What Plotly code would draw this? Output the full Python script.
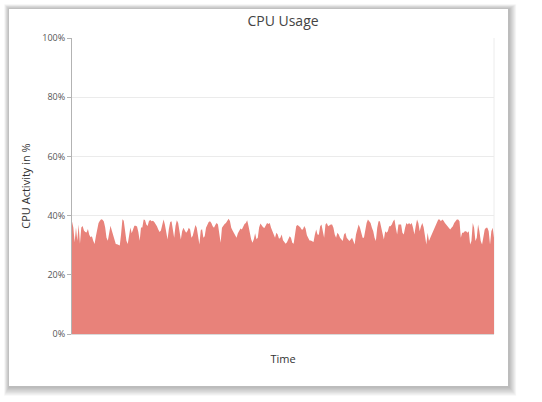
import plotly.graph_objects as go

# CPU activity (%), evenly spaced in time
seg1 = [38.0, 36, 31, 36, 31.5, 37, 30.5, 36, 36.5, 35, 34.5, 34.3, 35.5, 33.5, 32.7, 33,
        31.5, 30.4, 33, 36, 37.5, 38.3, 38.8, 38.6, 38, 36, 32.5, 31.5, 35, 36.6, 35, 33.5,
        32, 30.4, 30.3, 30.1, 29.9, 33.8, 38.8, 38.3, 33.8, 31.5, 30.4, 33, 36, 34, 35.8,
        36.6, 36.6, 36.3, 34.5, 31.5, 36]
seg2 = [36, 38.7, 38.5, 37, 36.5, 38.2, 38.5, 38.1, 38.3, 37.8, 37.2, 36.4, 35.3, 34.5, 35,
        36.8, 38.7, 37.0, 33.6, 31.9, 35.5, 37.8, 38.1, 34.7, 32.5, 36.5, 38.4, 37.5, 34.2,
        31.9, 34.7, 35.9, 35, 34.2, 34.8, 35.9, 35.3, 32.5, 33.2, 35.5, 36.8, 35.9, 32.5,
        30.2, 35, 35.5, 32.5, 33, 35.9, 37.0, 37.8, 38.1, 37.5]
seg3 = [36.4, 35.9, 36.8, 37.5, 37.0, 33.0, 30.8, 35.9, 36.6, 37.2, 37.5, 38.3, 38.9, 38.2,
        35.9, 35, 34.3, 33.6, 32.5, 34, 35, 35.6, 35.3, 36.5, 37.2, 37.5, 38.4, 36.5, 33.5,
        32, 30.8, 32, 34, 32, 32.5, 36, 37.3, 36.5, 36.1, 35.8, 36.8, 37.5, 37.2, 37.5, 35.9,
        34.8, 33.8, 32.5, 34.2, 33.6, 32.2, 32.5, 33.6]
seg4 = [31.7, 31.1, 30.5, 31, 32.2, 33, 32.5, 30.8, 30.5, 33, 36.5, 36.8, 36.4, 36.1, 35.3,
        35.3, 36.5, 35.6, 33.4, 32.2, 31.6, 31.6, 31.4, 31.1, 33.5, 35.3, 33.6, 33.5, 36.4,
        37.0, 34.7, 32.5, 37.0, 37.5, 36.4, 36.8, 37.0, 37.0, 35.9, 33.6, 32.5, 34.2, 33.6,
        32.5, 31.9, 31.4, 33.6, 34.2, 32.5, 31.8, 31.4, 31.9, 32.5]
seg5 = [31.4, 30.2, 33.6, 35.9, 37.0, 35.9, 33.6, 32.5, 32.5, 35.9, 37.5, 38.7, 38.1, 37.5,
        35.9, 34.7, 32.5, 31.4, 35.9, 38.1, 38.1, 35.9, 33.6, 31.9, 34.7, 34.2, 34.7, 36.4,
        36.4, 37.0, 38.1, 38.7, 35.9, 33.6, 37.0, 37.0, 37.0, 34.2, 33.6, 35.9, 37.5, 37.0,
        37.5, 37.0, 37.5, 35.9, 33.6, 36.4, 38.7, 37.5, 34.7, 36.4, 37.5]
seg6 = [36.0, 32.5, 30.2, 34.2, 31.4, 32.5, 33.6, 34.7, 35.9, 37.0, 38.1, 38.7, 38.7, 38.1,
        38.7, 38.3, 37.5, 37.0, 36.4, 35.9, 35.3, 35.9, 36.4, 37.5, 38.1, 38.7, 38.7, 38.1,
        32.5, 34.2, 34.2, 34.7, 34.7, 34.2, 34.7, 30.2, 31.4, 37.5, 35.9, 31.4, 32.5, 37.0,
        34.7, 31.4, 30.2, 33.6, 35.3, 35.9, 35.9, 34.7, 30.2, 34.7, 35.9, 32.5]
cpu_usage = seg1 + seg2 + seg3 + seg4 + seg5 + seg6
time_index = list(range(len(cpu_usage)))

y_tick_values = [0, 20, 40, 60, 80, 100]
y_tick_labels = ["0%", "20%", "40%", "60%", "80%", "100%"]

W, H = 542, 402
L, R, T, B = 72, 48, 38, 68
pw, ph = W - L - R, H - T - B

def px_x(px):
    return (px - L) / pw

def px_y(py):
    return (H - B - py) / ph

fig = go.Figure()
fig.add_trace(go.Scatter(
    x=time_index, y=cpu_usage, mode="lines", fill="tozeroy",
    line=dict(width=0, color="#E8827A"), fillcolor="#E8827A",
    hoverinfo="skip", showlegend=False))

shapes = []
# soft card shadow (stronger to the right and bottom)
for i in range(1, 9):
    shapes.append(dict(type="rect", xref="paper", yref="paper", layer="below",
                       x0=px_x(9 - i * 0.6), x1=px_x(509 + i * 0.9),
                       y0=px_y(387 + i * 1.1), y1=px_y(9 - i * 0.6),
                       line=dict(width=0), fillcolor="rgba(0,0,0,0.035)"))
shapes.append(dict(type="rect", xref="paper", yref="paper", layer="below",
                   x0=px_x(9), x1=px_x(508), y0=px_y(386), y1=px_y(9),
                   line=dict(width=0), fillcolor="#ffffff"))
# right border of plot area
shapes.append(dict(type="line", xref="paper", yref="paper", layer="below",
                   x0=1, x1=1, y0=0, y1=1, line=dict(width=1, color="#ececec")))

font_family = "Open Sans, Noto Sans, sans-serif"
fig.update_layout(
    width=W, height=H,
    margin=dict(l=L, r=R, t=T, b=B, pad=0),
    paper_bgcolor="#ffffff", plot_bgcolor="rgba(0,0,0,0)",
    font=dict(family=font_family, color="#444"),
    title=dict(text="CPU Usage", x=0.5, xref="paper", xanchor="center",
               y=1 - 21 / H, yref="container", yanchor="middle",
               font=dict(size=14, color="#444")),
    shapes=shapes,
    xaxis=dict(range=[0, len(cpu_usage) - 1], showticklabels=False, ticks="",
               showgrid=False, zeroline=False, showline=True, linecolor="#d9d9d9",
               linewidth=1,
               title=dict(text="Time", standoff=21, font=dict(size=11, color="#333"))),
    yaxis=dict(range=[0, 100], tickvals=y_tick_values, ticktext=y_tick_labels,
               showgrid=True, gridcolor="#ebebeb", zeroline=False,
               showline=True, linecolor="#b3b3b3", linewidth=1,
               ticks="outside", ticklen=4, tickcolor="#b3b3b3",
               tickfont=dict(size=9, color="#555"),
               title=dict(text="CPU Activity in %", standoff=9,
                          font=dict(size=11, color="#333"))),
)

fig.write_html("out.html")
